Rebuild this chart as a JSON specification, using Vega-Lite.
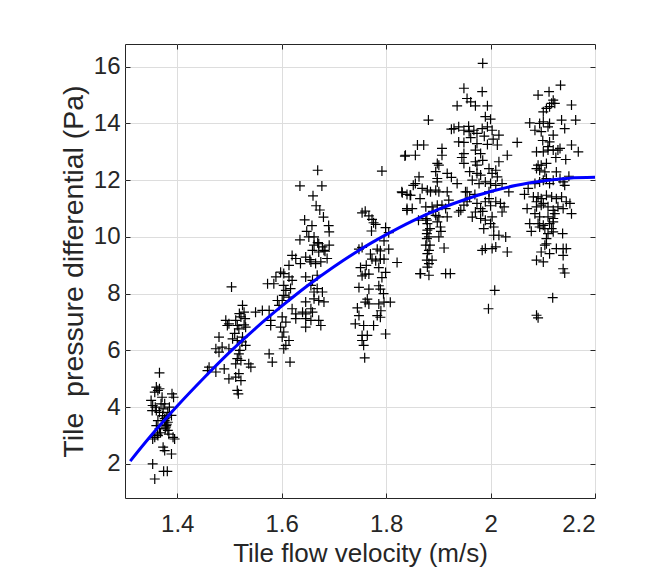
{
"$schema": "https://vega.github.io/schema/vega-lite/v6.json",
"width": 470, "height": 454,
"autosize": "none",
"padding": {"left": 125, "top": 44, "right": 59, "bottom": 77},
"background": "white",
"config": {
 "view": {"stroke": "#262626", "strokeWidth": 1},
 "font": "Liberation Sans",
 "axis": {"labelFont": "Liberation Sans", "titleFont": "Liberation Sans", "labelColor": "#262626", "titleColor": "#262626", "labelFontSize": 24, "titleFontSize": 26, "titleFontWeight": "normal", "tickColor": "#262626", "gridColor": "#dddddd", "gridWidth": 1, "domain": false, "tickSize": -5, "tickWidth": 1}
},
"datasets": {
"pts": [
{"v":1.366,"p":5.21},{"v":1.360,"p":4.71},{"v":1.357,"p":4.53},{"v":1.363,"p":4.59},{"v":1.390,"p":4.47},{"v":1.393,"p":4.35},{"v":1.350,"p":4.24},{"v":1.353,"p":4.06},{"v":1.352,"p":3.88},{"v":1.369,"p":4.12},{"v":1.376,"p":4.12},{"v":1.373,"p":3.94},{"v":1.360,"p":3.88},{"v":1.366,"p":3.82},{"v":1.382,"p":3.82},{"v":1.389,"p":3.71},{"v":1.379,"p":3.65},{"v":1.376,"p":3.53},{"v":1.382,"p":3.47},{"v":1.379,"p":3.35},{"v":1.377,"p":3.24},{"v":1.382,"p":3.18},{"v":1.363,"p":3.53},{"v":1.360,"p":3.35},{"v":1.366,"p":3.24},{"v":1.357,"p":2.94},{"v":1.353,"p":2.88},{"v":1.363,"p":3.0},{"v":1.392,"p":2.94},{"v":1.395,"p":2.88},{"v":1.373,"p":2.59},{"v":1.376,"p":2.47},{"v":1.389,"p":2.35},{"v":1.353,"p":2.0},{"v":1.374,"p":1.74},{"v":1.381,"p":1.74},{"v":1.357,"p":1.47},
{"v":1.378,"p":3.3},{"v":1.380,"p":3.4},{"v":1.376,"p":3.6},{"v":1.372,"p":3.7},{"v":1.368,"p":3.1},{"v":1.384,"p":3.05},{"v":1.362,"p":3.05},{"v":1.358,"p":4.0},{"v":1.385,"p":4.0},{"v":1.371,"p":4.35},{"v":1.366,"p":4.65},
{"v":1.504,"p":8.24},{"v":1.525,"p":7.59},{"v":1.528,"p":7.35},{"v":1.522,"p":7.18},{"v":1.530,"p":7.12},{"v":1.493,"p":7.06},{"v":1.496,"p":6.88},{"v":1.499,"p":6.94},{"v":1.512,"p":7.06},{"v":1.515,"p":6.88},{"v":1.518,"p":6.76},{"v":1.531,"p":6.82},{"v":1.480,"p":6.47},{"v":1.506,"p":6.41},{"v":1.515,"p":6.35},{"v":1.525,"p":6.47},{"v":1.531,"p":6.18},{"v":1.474,"p":6.06},{"v":1.486,"p":6.12},{"v":1.499,"p":6.06},{"v":1.480,"p":5.94},{"v":1.518,"p":5.88},{"v":1.515,"p":5.71},{"v":1.522,"p":5.65},{"v":1.512,"p":5.53},{"v":1.537,"p":5.53},{"v":1.541,"p":5.41},{"v":1.461,"p":5.41},{"v":1.458,"p":5.29},{"v":1.474,"p":5.24},{"v":1.490,"p":5.35},{"v":1.499,"p":5.0},{"v":1.512,"p":5.06},{"v":1.522,"p":4.94},{"v":1.518,"p":5.18},{"v":1.515,"p":4.59},{"v":1.517,"p":4.47},{"v":1.576,"p":5.88},{"v":1.582,"p":5.59},{"v":1.616,"p":5.59},
{"v":1.520,"p":6.0},{"v":1.524,"p":6.3},{"v":1.510,"p":6.6},{"v":1.528,"p":6.9},{"v":1.519,"p":7.3},
{"v":1.652,"p":10.0},{"v":1.691,"p":10.18},{"v":1.662,"p":9.71},{"v":1.671,"p":9.76},{"v":1.678,"p":9.65},{"v":1.659,"p":9.53},{"v":1.671,"p":9.47},{"v":1.681,"p":9.53},{"v":1.691,"p":9.71},
{"v":1.620,"p":9.35},{"v":1.627,"p":9.24},{"v":1.636,"p":9.06},{"v":1.646,"p":9.29},{"v":1.656,"p":9.12},{"v":1.665,"p":9.06},{"v":1.675,"p":9.12},{"v":1.687,"p":9.24},
{"v":1.614,"p":9.0},{"v":1.598,"p":8.76},{"v":1.604,"p":8.71},{"v":1.589,"p":8.59},{"v":1.614,"p":8.59},{"v":1.620,"p":8.47},
{"v":1.573,"p":8.35},{"v":1.585,"p":8.35},{"v":1.604,"p":8.29},{"v":1.617,"p":8.18},{"v":1.608,"p":8.12},{"v":1.604,"p":7.94},{"v":1.614,"p":7.88},
{"v":1.646,"p":8.59},{"v":1.659,"p":8.47},{"v":1.668,"p":8.65},{"v":1.656,"p":8.29},{"v":1.662,"p":8.06},{"v":1.668,"p":8.18},{"v":1.678,"p":8.06},{"v":1.646,"p":7.71},{"v":1.662,"p":7.82},{"v":1.671,"p":7.76},{"v":1.681,"p":7.71},
{"v":1.550,"p":7.35},{"v":1.563,"p":7.41},{"v":1.576,"p":7.41},{"v":1.592,"p":7.76},{"v":1.601,"p":7.76},{"v":1.595,"p":7.59},
{"v":1.620,"p":7.47},{"v":1.627,"p":7.29},{"v":1.640,"p":7.35},{"v":1.656,"p":7.47},{"v":1.646,"p":7.29},{"v":1.659,"p":7.35},
{"v":1.627,"p":7.12},{"v":1.646,"p":7.12},{"v":1.656,"p":7.06},{"v":1.671,"p":7.06},{"v":1.675,"p":6.88},{"v":1.646,"p":6.82},
{"v":1.601,"p":7.18},{"v":1.608,"p":7.0},{"v":1.598,"p":6.82},{"v":1.604,"p":6.65},{"v":1.601,"p":6.47},{"v":1.614,"p":6.35},{"v":1.608,"p":6.18},{"v":1.604,"p":6.06},
{"v":1.579,"p":7.06},{"v":1.579,"p":6.88},
{"v":1.669,"p":12.35},{"v":1.635,"p":11.8},{"v":1.677,"p":11.8},{"v":1.660,"p":11.45},{"v":1.673,"p":10.95},{"v":1.644,"p":10.6},{"v":1.658,"p":10.4},{"v":1.635,"p":9.9},{"v":1.669,"p":9.8},{"v":1.683,"p":9.5},{"v":1.654,"p":9.2},{"v":1.666,"p":11.1},{"v":1.680,"p":10.7},{"v":1.648,"p":10.2},{"v":1.690,"p":10.4},{"v":1.662,"p":10.0},
{"v":1.792,"p":12.32},{"v":1.831,"p":11.56},{"v":1.840,"p":11.5},{"v":1.840,"p":10.94},
{"v":1.754,"p":10.85},{"v":1.760,"p":10.91},{"v":1.767,"p":10.74},{"v":1.773,"p":10.62},{"v":1.776,"p":10.5},{"v":1.780,"p":10.44},{"v":1.772,"p":10.21},
{"v":1.799,"p":10.33},{"v":1.805,"p":10.15},
{"v":1.748,"p":9.57},{"v":1.754,"p":9.63},{"v":1.783,"p":9.57},{"v":1.789,"p":9.51},{"v":1.805,"p":9.57},{"v":1.796,"p":9.86},
{"v":1.773,"p":9.22},{"v":1.780,"p":9.16},{"v":1.789,"p":9.22},{"v":1.796,"p":9.22},{"v":1.821,"p":9.1},
{"v":1.751,"p":8.92},{"v":1.760,"p":8.69},{"v":1.767,"p":8.69},{"v":1.754,"p":8.63},{"v":1.786,"p":8.92},{"v":1.799,"p":8.75},{"v":1.792,"p":8.57},
{"v":1.748,"p":8.22},{"v":1.767,"p":8.16},{"v":1.786,"p":8.28},{"v":1.789,"p":8.16},
{"v":1.764,"p":7.81},{"v":1.767,"p":7.64},{"v":1.760,"p":7.70},{"v":1.786,"p":7.64},{"v":1.796,"p":7.70},{"v":1.808,"p":7.70},
{"v":1.748,"p":7.23},{"v":1.783,"p":7.23},{"v":1.789,"p":7.17},{"v":1.741,"p":6.94},{"v":1.757,"p":6.88},{"v":1.776,"p":6.88},
{"v":1.754,"p":6.53},{"v":1.764,"p":6.53},{"v":1.754,"p":6.35},{"v":1.799,"p":6.58},{"v":1.757,"p":6.18},{"v":1.759,"p":5.74},
{"v":1.770,"p":9.4},{"v":1.762,"p":9.0},{"v":1.795,"p":8.0},{"v":1.745,"p":7.5},{"v":1.790,"p":7.4},
{"v":1.985,"p":16.12},
{"v":1.949,"p":15.24},{"v":1.984,"p":15.12},{"v":1.955,"p":14.88},{"v":1.962,"p":14.76},{"v":1.936,"p":14.62},{"v":1.971,"p":14.62},{"v":1.994,"p":14.62},
{"v":1.990,"p":14.24},{"v":2.0,"p":14.15},{"v":1.881,"p":14.12},
{"v":1.930,"p":13.82},{"v":1.939,"p":13.88},{"v":1.949,"p":13.76},{"v":1.959,"p":13.71},{"v":1.968,"p":13.76},{"v":1.974,"p":13.65},{"v":1.984,"p":13.82},{"v":1.994,"p":13.88},{"v":2.003,"p":13.76},{"v":2.016,"p":13.59},
{"v":2.051,"p":13.33},{"v":1.860,"p":13.24},{"v":1.872,"p":13.24},
{"v":1.939,"p":13.35},{"v":1.949,"p":13.33},{"v":1.974,"p":13.29},{"v":1.994,"p":13.26},{"v":2.013,"p":13.24},
{"v":1.837,"p":12.88},{"v":1.856,"p":12.88},
{"v":1.907,"p":13.12},{"v":1.907,"p":12.88},{"v":1.898,"p":12.59},{"v":1.901,"p":12.53},
{"v":1.949,"p":12.94},{"v":1.971,"p":13.06},{"v":1.981,"p":12.94},{"v":1.949,"p":12.59},{"v":1.971,"p":12.65},{"v":1.974,"p":12.53},
{"v":1.997,"p":12.41},{"v":2.010,"p":12.35},{"v":2.016,"p":12.65},{"v":2.032,"p":12.88},
{"v":1.917,"p":12.24},{"v":1.898,"p":12.06},{"v":1.863,"p":12.12},{"v":1.856,"p":11.88},{"v":1.847,"p":11.47},{"v":1.869,"p":11.71},{"v":1.879,"p":11.65},{"v":1.885,"p":11.59},
{"v":1.895,"p":11.65},{"v":1.901,"p":11.59},{"v":1.898,"p":11.94},
{"v":1.917,"p":11.59},{"v":1.936,"p":11.88},{"v":1.955,"p":11.59},{"v":1.965,"p":12.0},{"v":1.978,"p":11.88},{"v":1.990,"p":11.94},{"v":2.0,"p":11.88},{"v":2.010,"p":11.82},{"v":2.022,"p":11.88},{"v":2.035,"p":11.59},
{"v":1.974,"p":12.24},{"v":1.981,"p":12.18},{"v":2.003,"p":12.24},{"v":2.013,"p":12.12},{"v":1.997,"p":11.59},
{"v":1.840,"p":11.0},{"v":1.876,"p":11.06},{"v":1.888,"p":11.06},{"v":1.898,"p":11.12},{"v":1.907,"p":11.12},{"v":1.914,"p":11.0},
{"v":1.952,"p":11.59},{"v":1.955,"p":11.24},{"v":1.949,"p":11.12},{"v":1.974,"p":11.18},{"v":1.981,"p":11.0},{"v":1.990,"p":11.24},{"v":1.997,"p":11.35},{"v":2.010,"p":11.24},{"v":2.019,"p":11.18},{"v":2.026,"p":11.06},{"v":2.022,"p":10.88},
{"v":1.876,"p":10.65},{"v":1.879,"p":10.47},{"v":1.895,"p":10.76},{"v":1.901,"p":10.71},{"v":1.917,"p":10.71},{"v":1.898,"p":10.53},{"v":1.904,"p":10.35},
{"v":1.939,"p":10.88},{"v":1.943,"p":10.94},{"v":1.971,"p":10.88},{"v":1.981,"p":10.65},{"v":1.990,"p":10.59},{"v":2.003,"p":10.71},{"v":2.0,"p":10.47},{"v":2.006,"p":10.35},
{"v":1.879,"p":10.24},{"v":1.882,"p":10.0},{"v":1.901,"p":10.0},{"v":1.987,"p":10.29},{"v":2.006,"p":10.06},{"v":2.016,"p":10.06},{"v":2.029,"p":10.0},
{"v":1.876,"p":9.71},{"v":1.882,"p":9.53},{"v":1.879,"p":9.41},{"v":1.911,"p":9.61},{"v":1.984,"p":9.53},{"v":1.990,"p":9.59},{"v":2.003,"p":9.59},{"v":2.010,"p":9.65},{"v":2.032,"p":9.47},
{"v":1.888,"p":9.18},{"v":1.882,"p":9.06},{"v":1.879,"p":8.94},{"v":1.866,"p":8.71},{"v":1.882,"p":8.65},{"v":1.914,"p":8.71},{"v":1.923,"p":8.71},
{"v":2.008,"p":8.12},{"v":1.996,"p":7.47},
{"v":1.836,"p":12.85},{"v":1.830,"p":11.59},{"v":1.846,"p":11.47},{"v":1.852,"p":11.82},{"v":1.865,"p":11.35},{"v":1.862,"p":10.59},{"v":1.878,"p":10.59},{"v":1.884,"p":10.29},{"v":1.878,"p":10.12},{"v":1.878,"p":9.94},{"v":1.884,"p":9.71},{"v":1.878,"p":9.18},{"v":1.865,"p":8.71},{"v":1.850,"p":11.0},
{"v":1.925,"p":13.8},{"v":1.958,"p":13.9},{"v":1.962,"p":13.5},{"v":1.988,"p":13.55},{"v":2.005,"p":13.45},{"v":1.945,"p":12.8},{"v":1.960,"p":12.3},{"v":1.985,"p":12.7},{"v":1.960,"p":11.4},{"v":1.970,"p":11.5},{"v":2.0,"p":11.1},{"v":1.985,"p":10.9},{"v":1.965,"p":10.7},{"v":1.920,"p":11.3},{"v":1.890,"p":10.9},{"v":1.905,"p":10.2},{"v":1.895,"p":12.3},{"v":1.925,"p":12.1},
{"v":2.134,"p":15.35},{"v":2.091,"p":15.0},{"v":2.112,"p":15.12},{"v":2.120,"p":14.82},{"v":2.117,"p":14.71},{"v":2.123,"p":14.71},{"v":2.155,"p":14.65},{"v":2.101,"p":14.41},{"v":2.107,"p":14.53},{"v":2.113,"p":14.59},
{"v":2.075,"p":14.02},{"v":2.094,"p":14.0},{"v":2.101,"p":14.06},{"v":2.113,"p":14.0},{"v":2.136,"p":14.12},{"v":2.163,"p":14.12},{"v":2.085,"p":13.76},{"v":2.097,"p":13.71},{"v":2.110,"p":13.88},{"v":2.142,"p":13.82},
{"v":2.113,"p":13.35},{"v":2.120,"p":13.59},{"v":2.110,"p":13.18},{"v":2.155,"p":13.24},{"v":2.168,"p":13.0},
{"v":2.088,"p":13.0},{"v":2.101,"p":13.0},{"v":2.110,"p":13.06},{"v":2.120,"p":13.06},{"v":2.129,"p":13.06},{"v":2.133,"p":13.12},{"v":2.144,"p":12.73},
{"v":2.091,"p":12.53},{"v":2.097,"p":12.53},{"v":2.107,"p":12.59},{"v":2.088,"p":12.41},{"v":2.094,"p":12.35},{"v":2.104,"p":12.29},{"v":2.126,"p":12.29},{"v":2.150,"p":12.14},
{"v":2.072,"p":11.71},{"v":2.085,"p":11.88},{"v":2.094,"p":11.94},{"v":2.101,"p":12.0},{"v":2.107,"p":12.06},{"v":2.113,"p":11.88},{"v":2.120,"p":12.0},{"v":2.133,"p":12.06},{"v":2.139,"p":11.94},{"v":2.142,"p":11.82},
{"v":2.082,"p":11.41},{"v":2.091,"p":11.41},{"v":2.097,"p":11.35},{"v":2.107,"p":11.47},{"v":2.117,"p":11.41},{"v":2.126,"p":11.35},{"v":2.136,"p":11.41},{"v":2.145,"p":11.24},{"v":2.152,"p":11.18},{"v":2.088,"p":11.24},{"v":2.101,"p":11.18},
{"v":2.088,"p":11.06},{"v":2.097,"p":11.12},{"v":2.110,"p":11.06},{"v":2.120,"p":10.94},{"v":2.129,"p":11.06},{"v":2.139,"p":11.0},{"v":2.155,"p":10.82},
{"v":2.085,"p":10.82},{"v":2.094,"p":10.71},{"v":2.110,"p":10.71},{"v":2.120,"p":10.65},{"v":2.123,"p":10.82},
{"v":2.075,"p":10.47},{"v":2.091,"p":10.47},{"v":2.101,"p":10.41},{"v":2.113,"p":10.47},{"v":2.120,"p":10.53},{"v":2.117,"p":10.29},
{"v":2.094,"p":10.35},{"v":2.104,"p":10.29},{"v":2.110,"p":10.12},{"v":2.120,"p":10.18},{"v":2.138,"p":10.12},
{"v":2.107,"p":9.94},{"v":2.107,"p":9.76},{"v":2.104,"p":9.71},{"v":2.126,"p":9.59},{"v":2.139,"p":9.59},{"v":2.145,"p":9.59},
{"v":2.097,"p":9.47},{"v":2.113,"p":9.41},{"v":2.139,"p":9.35},{"v":2.088,"p":9.18},{"v":2.101,"p":9.12},
{"v":2.139,"p":8.88},{"v":2.142,"p":8.73},{"v":2.119,"p":7.86},{"v":2.088,"p":7.24},{"v":2.091,"p":7.15},
{"v":2.065,"p":11.5},{"v":2.070,"p":11.0},{"v":2.078,"p":10.2},{"v":2.100,"p":13.4},{"v":2.125,"p":12.8}
],
"fit": [
{"v":1.31,"p":2.1},{"v":1.35,"p":3.0},{"v":1.40,"p":4.04},{"v":1.45,"p":5.01},{"v":1.50,"p":5.93},{"v":1.55,"p":6.78},{"v":1.60,"p":7.56},{"v":1.65,"p":8.29},{"v":1.70,"p":8.95},{"v":1.75,"p":9.55},{"v":1.80,"p":10.08},{"v":1.85,"p":10.56},{"v":1.90,"p":10.97},{"v":1.95,"p":11.31},{"v":2.00,"p":11.6},{"v":2.05,"p":11.82},{"v":2.10,"p":11.97},{"v":2.15,"p":12.07},{"v":2.20,"p":12.1}
]
},
"layer": [
 {
  "data": {"name": "pts"},
  "mark": {"type": "point", "shape": "M-1,0L1,0M0,-1L0,1", "size": 100, "filled": false, "stroke": "#000000", "strokeWidth": 1.2, "opacity": 1},
  "encoding": {
   "x": {"field": "v", "type": "quantitative", "scale": {"domain": [1.3, 2.2], "nice": false, "zero": false},
         "axis": {"orient": "bottom", "values": [1.4, 1.6, 1.8, 2.0, 2.2], "format": "~g", "grid": true, "title": "Tile flow velocity (m/s)", "labelPadding": 19, "titlePadding": 4}},
   "y": {"field": "p", "type": "quantitative", "scale": {"domain": [0.8, 16.8], "nice": false, "zero": false},
         "axis": {"orient": "left", "values": [2, 4, 6, 8, 10, 12, 14, 16], "format": "d", "grid": true, "title": "Tile\u00a0 pressure differential (Pa)", "titleFontSize": 28.5, "labelPadding": 10, "titlePadding": 5}}
  }
 },
 {
  "data": {"name": "fit"},
  "mark": {"type": "line", "color": "#0000ff", "strokeWidth": 3, "interpolate": "monotone"},
  "encoding": {
   "x": {"field": "v", "type": "quantitative", "axis": {"orient": "top", "values": [1.4, 1.6, 1.8, 2.0, 2.2], "labels": false, "grid": false, "title": null}},
   "y": {"field": "p", "type": "quantitative", "axis": {"orient": "right", "values": [2, 4, 6, 8, 10, 12, 14, 16], "labels": false, "grid": false, "title": null}}
  }
 }
],
"resolve": {"axis": {"x": "independent", "y": "independent"}}
}
